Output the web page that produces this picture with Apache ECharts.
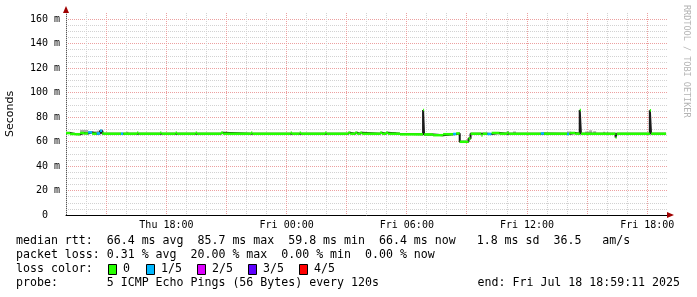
<!DOCTYPE html>
<html><head><meta charset="utf-8">
<script src="https://cdn.jsdelivr.net/npm/echarts@6/dist/echarts.min.js"></script>
<style>html,body{margin:0;padding:0;background:#fff}#c{width:697px;height:297px}</style>
</head><body><div id="c"></div>
<script>
// time in hours since Thu 00:00
const startHour = 12.9864;
const endHour = 42.9864;
const medTime  = [12.987,13.19,13.44,13.69,13.89,14.09,14.29,14.52,14.69,14.79,14.88,15.73,15.85,16.53,16.60,17.68,17.75,18.46,18.53,19.46,19.53,20.72,20.83,22.22,22.29,24.20,24.27,24.65,24.72,25.92,25.99,27.07,27.17,27.42,27.52,27.67,27.77,28.66,28.76,28.96,29.06,29.66,30.81,30.86,31.31,31.81,32.31,32.46,32.64,33.08,33.18,33.72,33.78,34.02,34.23,34.63,35.00,35.08,36.69,36.85,38.00,38.10,38.15,38.40,38.63,38.69,40.42,40.47,42.13,42.19];
const medValue = [66.9,66.2,66.0,67.0,66.6,67.5,66.4,66.6,68.8,66.6,66.4,66.4,66.4,67.2,66.4,67.2,66.4,67.2,66.4,67.2,66.4,67.2,66.4,67.2,66.4,67.2,66.4,67.2,66.4,67.2,66.4,67.2,66.4,67.2,66.4,67.2,66.4,67.2,66.4,67.2,66.4,65.9,85.7,65.8,65.2,66.0,66.2,66.6,59.8,62.5,66.4,64.9,66.4,66.2,67.0,66.4,67.2,66.4,66.6,66.4,66.2,66.4,67.0,66.4,85.7,66.4,63.3,66.4,85.5,66.4];
const medLoss  = [0,0,0,0,0,1,0,1,1,0,0,1,0,0,0,0,0,0,0,0,0,0,0,0,0,0,0,0,0,0,0,0,0,0,0,0,0,0,0,0,0,0,0,0,0,0,1,0,0,0,0,0,0,1,0,0,0,0,1,0,1,0,0,0,0,0,0,0,0,0];
const medEnd = 42.94;

const smokeStart = [13.00,13.69,14.09,14.52,16.00,29.31,34.98,35.30,38.00,38.90,39.10,39.30,39.80,40.00];
const smokeEnd   = [13.20,14.09,14.52,14.88,16.10,29.46,35.10,35.45,38.20,39.10,39.25,39.45,39.90,40.05];
const smokeLow   = [66.8,67.4,67.0,67.2,67.0,66.8,67.0,66.8,67.0,67.0,67.0,67.0,67.0,67.0];
const smokeHigh  = [68.0,69.5,68.4,68.8,68.0,67.8,68.6,68.2,68.2,68.2,69.2,68.4,68.0,68.0];

const xTickValues = [18, 24, 30, 36, 42];
const xTickLabels = ['Thu 18:00', 'Fri 00:00', 'Fri 06:00', 'Fri 12:00', 'Fri 18:00'];
const yMax = 165;
const yLabelValues = [0, 20, 40, 60, 80, 100, 120, 140, 160];

const lossColors = ['#26ff00', '#00b8ff', '#dd00ff', '#5e00ff', '#ff0000'];
const lossLabels = ['0', '1/5', '2/5', '3/5', '4/5'];

const legendLine1 = 'median rtt:  66.4 ms avg  85.7 ms max  59.8 ms min  66.4 ms now   1.8 ms sd  36.5   am/s';
const legendLine2 = 'packet loss: 0.31 % avg  20.00 % max  0.00 % min  0.00 % now';
const legendLine3 = 'loss color:';
const legendLine4 = 'probe:       5 ICMP Echo Pings (56 Bytes) every 120s';
const legendEnd = 'end: Fri Jul 18 18:59:11 2025';
const sideText = 'RRDTOOL / TOBI OETIKER';

// grid helper values (hourly minor lines, 3-hourly major lines; 5 m minor, 20 m major)
const xGrid = [], yMinor = [], yMajor = [];
for (let h = Math.ceil(startHour); h <= Math.floor(endHour); h++) xGrid.push([h, h % 3 === 0 ? 1 : 0]);
for (let v = 5; v < yMax; v += 5) (v % 20 === 0 ? yMajor : yMinor).push(v);

const stepData = medTime.map((t, i) => [t, medValue[i]]);
stepData.push([medEnd, medValue[medValue.length - 1]]);
const segData = medTime.map((t, i) => [t, i + 1 < medTime.length ? medTime[i + 1] : medEnd, medValue[i], medLoss[i]]);
const smokeData = smokeStart.map((t, i) => [t, smokeEnd[i], smokeLow[i], smokeHigh[i]]);

const MONO = 'DejaVu Sans Mono';
const minorC = '#d2d2d2', majorC = '#eca0a0';
const LF = '11.6px "DejaVu Sans Mono"';

const chart = echarts.init(document.getElementById('c'), null, {renderer: 'canvas'});

const graphics = [
  {type: 'polygon', shape: {points: [[63, 13], [69, 13], [66, 6]]}, style: {fill: '#a00000'}, z: 100},
  {type: 'polygon', shape: {points: [[667, 212], [667, 218], [674, 215]]}, style: {fill: '#a00000'}, z: 100},
  {type: 'text', x: 686, y: 5, rotation: -Math.PI / 2, style: {text: sideText, font: '8.5px "DejaVu Sans Mono"', fill: '#b4b4b4', align: 'left', verticalAlign: 'middle'}},
  {type: 'text', x: 16, y: 241, style: {text: legendLine1, font: LF, fill: '#000', verticalAlign: 'middle'}},
  {type: 'text', x: 16, y: 255, style: {text: legendLine2, font: LF, fill: '#000', verticalAlign: 'middle'}},
  {type: 'text', x: 16, y: 269, style: {text: legendLine3, font: LF, fill: '#000', verticalAlign: 'middle'}},
  {type: 'text', x: 16, y: 283, style: {text: legendLine4, font: LF, fill: '#000', verticalAlign: 'middle'}},
  {type: 'text', x: 680, y: 283, style: {text: legendEnd, font: LF, fill: '#000', align: 'right', verticalAlign: 'middle'}}
];
const boxX = [108, 146, 197, 248, 299];
lossColors.forEach((c, i) => {
  graphics.push({type: 'rect', shape: {x: boxX[i] + 0.5, y: 264.5, width: 8, height: 10}, style: {fill: c, stroke: '#000', lineWidth: 1}});
  graphics.push({type: 'text', x: boxX[i] + 15, y: 269, style: {text: lossLabels[i], font: LF, fill: '#000', verticalAlign: 'middle'}});
});

function gridAxis(values, color) {
  return {
    type: 'value', min: 0, max: yMax, show: true,
    axisLine: {show: false}, axisLabel: {show: false},
    axisTick: {show: false, customValues: values},
    splitLine: {show: true, showMinLine: true, showMaxLine: true, lineStyle: {color: color, type: [1, 1], width: 1}}
  };
}

chart.setOption({
  animation: false,
  backgroundColor: '#fff',
  grid: {left: 66, right: 30, top: 13, bottom: 82, containLabel: false, outerBoundsMode: 'none'},
  xAxis: {
    type: 'value', min: startHour, max: endHour,
    axisLine: {show: true, lineStyle: {color: '#000', width: 1}},
    axisTick: {show: false, customValues: xTickValues},
    axisLabel: {customValues: xTickValues, formatter: v => xTickLabels[xTickValues.indexOf(v)] || '', fontFamily: MONO, fontSize: 10, color: '#000', margin: 5},
    splitLine: {show: false}
  },
  yAxis: [
    {
      type: 'value', min: 0, max: yMax,
      name: 'Seconds', nameLocation: 'middle', nameGap: 50,
      nameTextStyle: {fontFamily: 'DejaVu Sans', fontSize: 11, color: '#000'},
      axisLine: {show: true, lineStyle: {color: '#555', width: 1}},
      axisTick: {show: false, customValues: yLabelValues},
      axisLabel: {
        customValues: yLabelValues,
        formatter: v => v === 0 ? '0\u00a0\u00a0' : v + ' m',
        fontFamily: MONO, fontSize: 10, color: '#000', margin: 6
      },
      splitLine: {show: false}
    },
    gridAxis(yMinor, minorC),
    gridAxis(yMajor, majorC)
  ],
  series: [
    {
      type: 'custom', name: 'vgrid', data: xGrid, encode: {x: 0}, z: 1, silent: true, clip: false,
      renderItem: (params, api) => {
        const b = api.coord([api.value(0), 0]);
        const t = api.coord([api.value(0), yMax]);
        const x = Math.floor(b[0]) + 0.5;
        return {type: 'line', shape: {x1: x, y1: t[1], x2: x, y2: b[1]},
          style: {stroke: api.value(1) ? majorC : minorC, lineWidth: 1, lineDash: [1, 1]}};
      }
    },
    {
      type: 'custom', name: 'smoke', data: smokeData, encode: {x: [0, 1], y: [2, 3]}, z: 2, silent: true,
      renderItem: (params, api) => {
        const a = api.coord([api.value(0), api.value(3)]);
        const b = api.coord([api.value(1), api.value(2)]);
        return {type: 'rect', shape: {x: a[0], y: a[1], width: b[0] - a[0], height: b[1] - a[1]}, style: {fill: '#a8a8a8'}};
      }
    },
    {
      type: 'line', name: 'median', data: stepData, step: 'end', symbol: 'none', z: 3, silent: true,
      lineStyle: {color: '#1a1a1a', width: 2}
    },
    {
      type: 'custom', name: 'loss', data: segData, encode: {x: [0, 1], y: 2}, z: 4, silent: true,
      renderItem: (params, api) => {
        const a = api.coord([api.value(0), api.value(2)]);
        const b = api.coord([api.value(1), api.value(2)]);
        return {type: 'line', shape: {x1: a[0], y1: a[1], x2: b[0], y2: b[1]}, style: {stroke: lossColors[api.value(3)], lineWidth: 2.5}};
      }
    }
  ],
  graphic: graphics
});
</script></body></html>
